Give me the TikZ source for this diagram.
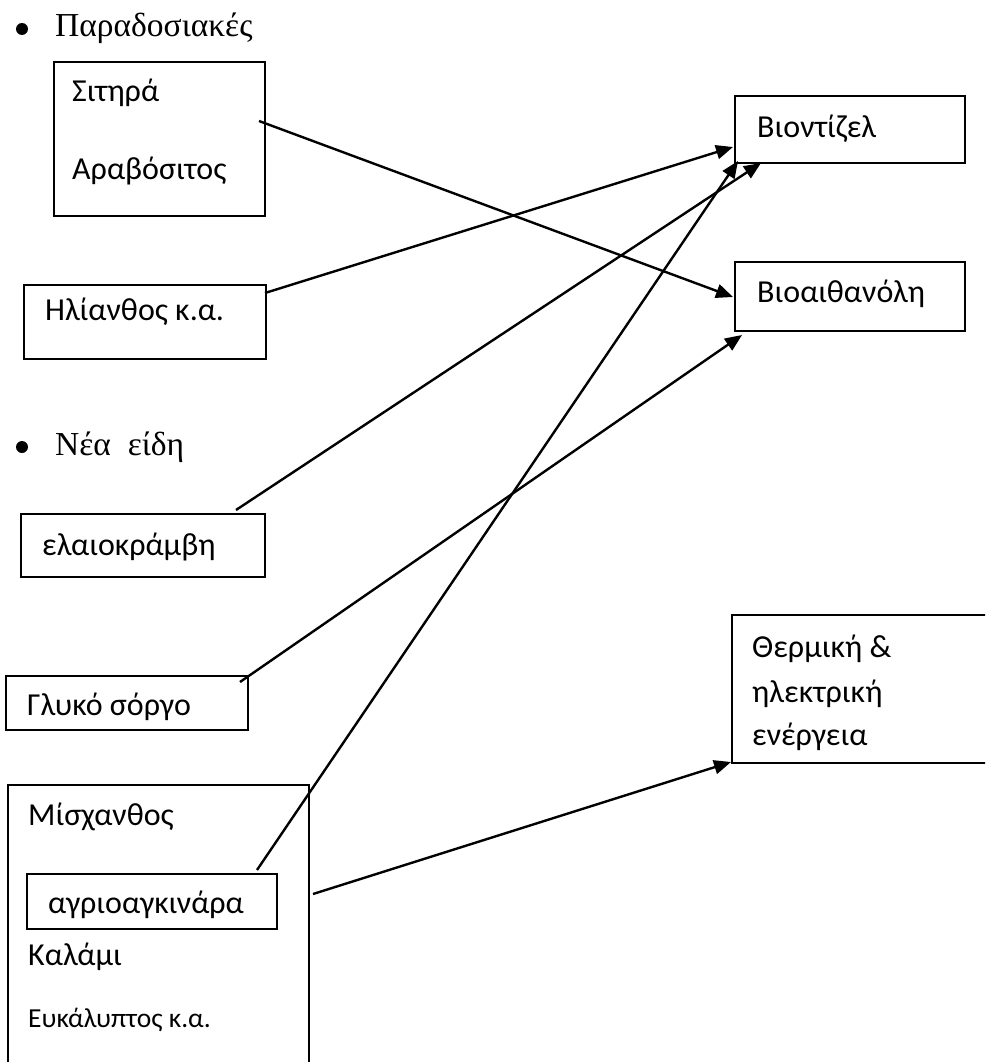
\documentclass[tikz,border=0pt]{standalone}
\usepackage{fontspec}
\setmainfont{Carlito}
\newfontfamily\serifgr{Liberation Serif}
\usetikzlibrary{arrows.meta}
\begin{document}
\begin{tikzpicture}[x=1pt,y=-1pt,
  box/.style={draw, line width=2pt, inner sep=0pt, anchor=north west},
  lbl/.style={anchor=base west, inner sep=0pt, font=\fontsize{32}{38}\selectfont},
  lbls/.style={anchor=base west, inner sep=0pt, font=\fontsize{27.5}{33}\selectfont},
  head/.style={anchor=base west, inner sep=0pt, font=\serifgr\fontsize{33.5}{40}\selectfont},
  dot/.style={circle, fill, inner sep=0pt, minimum size=12pt},
  conn/.style={line width=2.4pt, -{Triangle[length=17pt,width=14pt]}}]
\useasboundingbox (0,0) rectangle (985,1062);
\clip (0,0) rectangle (985,1062);
% headings
\node[dot] (d1) at (22,29) {};
\node[head] (h1) at (55,37) {Παραδοσιακές};
\node[dot] (d2) at (22,447) {};
\node[head] (h2) at (55,455) {Νέα\ \ είδη};
% boxes
\node[box, minimum width=211pt, minimum height=154pt] (sit) at (53,61) {};
\node[lbl] (t1) at (72,102) {Σιτηρά};
\node[lbl] (t2) at (72,179) {Αραβόσιτος};
\node[box, minimum width=242pt, minimum height=74pt] (hli) at (23,284) {};
\node[lbl] (t3) at (45,320) {Ηλίανθος κ.α.};
\node[box, minimum width=244pt, minimum height=63pt] (ela) at (20,513) {};
\node[lbl] (t4) at (42,555) {ελαιοκράμβη};
\node[box, minimum width=242pt, minimum height=54pt] (gly) at (5,675) {};
\node[lbl] (t5) at (27,715) {Γλυκό σόργο};
\node[box, minimum width=301pt, minimum height=320pt] (mis) at (7,784) {};
\node[lbl] (t6) at (28,825) {Μίσχανθος};
\node[box, minimum width=250pt, minimum height=55pt] (agr) at (26,873) {};
\node[lbl] (t7) at (48,913) {αγριοαγκινάρα};
\node[lbl] (t8) at (28,965) {Καλάμι};
\node[lbls] (t9) at (28,1027) {Ευκάλυπτος κ.α.};
\node[box, minimum width=230pt, minimum height=67pt] (bd) at (734,95) {};
\node[lbl] (t10) at (757,137) {Βιοντίζελ};
\node[box, minimum width=230pt, minimum height=69pt] (be) at (734,261) {};
\node[lbl] (t11) at (757,302) {Βιοαιθανόλη};
\node[box, minimum width=300pt, minimum height=148pt] (th) at (731,614) {};
\node[lbl] (t12) at (752,657) {Θερμική \&};
\node[lbl] (t13) at (752,702) {ηλεκτρική};
\node[lbl] (t14) at (752,745) {ενέργεια};
% connector ends
\coordinate (s1) at (259,121);
\coordinate (e1) at (733,297);
\coordinate (s2) at (265,293);
\coordinate (e2) at (733,147);
\coordinate (s3) at (236,510);
\coordinate (e3) at (761,163);
\coordinate (s4) at (240,682);
\coordinate (e4) at (742,335);
\coordinate (s5) at (257,870);
\coordinate (e5) at (738,161);
\coordinate (s6) at (313,894);
\coordinate (e6) at (731,762);
\draw[conn] (s1) -- (e1);
\draw[conn] (s2) -- (e2);
\draw[conn] (s3) -- (e3);
\draw[conn] (s4) -- (e4);
\draw[conn] (s5) -- (e5);
\draw[conn] (s6) -- (e6);
\end{tikzpicture}
\end{document}
